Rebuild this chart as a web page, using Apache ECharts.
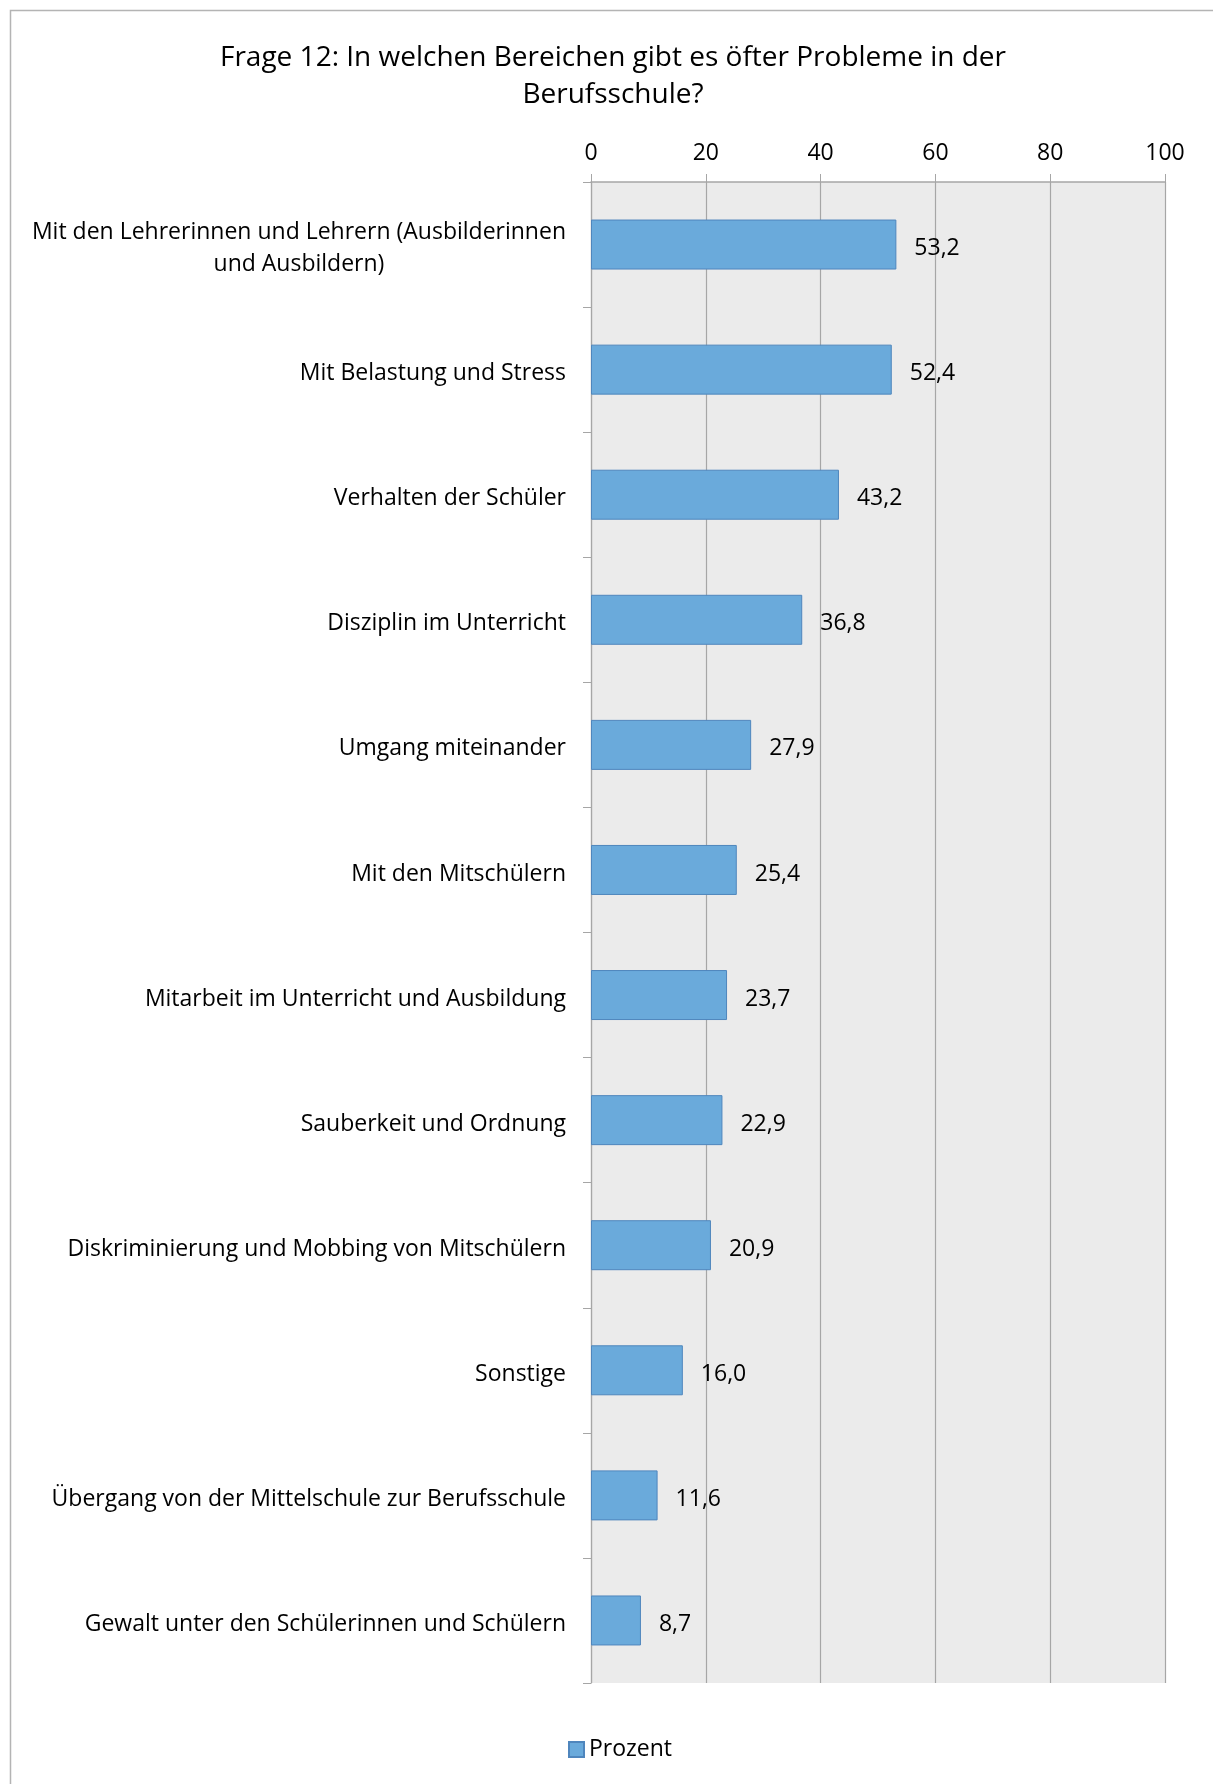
<!DOCTYPE html>
<html>
<head>
<meta charset="utf-8">
<script src="https://cdn.jsdelivr.net/npm/echarts@6/dist/echarts.min.js"></script>
<style>
  html, body { margin: 0; padding: 0; background: #ffffff; }
  #chart { width: 1213px; height: 1784px; }
</style>
</head>
<body>
<div id="chart"></div>
<script>
// Survey question 12: problem areas at the vocational school (percent)
const titleText = 'Frage 12: In welchen Bereichen gibt es öfter Probleme in der\nBerufsschule?';
const seriesName = 'Prozent';
const categories = [
  'Mit den Lehrerinnen und Lehrern (Ausbilderinnen\nund Ausbildern)',
  'Mit Belastung und Stress',
  'Verhalten der Schüler',
  'Disziplin im Unterricht',
  'Umgang miteinander',
  'Mit den Mitschülern',
  'Mitarbeit im Unterricht und Ausbildung',
  'Sauberkeit und Ordnung',
  'Diskriminierung und Mobbing von Mitschülern',
  'Sonstige',
  'Übergang von der Mittelschule zur Berufsschule',
  'Gewalt unter den Schülerinnen und Schülern'
];
const values = [53.2, 52.4, 43.2, 36.8, 27.9, 25.4, 23.7, 22.9, 20.9, 16.0, 11.6, 8.7];
const axisTicks = [0, 20, 40, 60, 80, 100];

const FONT = '"Open Sans", "Noto Sans", sans-serif';
const GRID_GRAY = '#a6a6a6';

const chart = echarts.init(document.getElementById('chart'), null, { renderer: 'canvas' });

chart.setOption({
  backgroundColor: '#ffffff',
  animation: false,
  textStyle: { fontFamily: FONT, color: '#000' },
  graphic: [{
    // outer chart frame (left and top edges visible)
    type: 'rect',
    left: 8, top: 8,
    shape: { width: 1400, height: 2000 },
    style: { fill: 'none', stroke: '#b4b4b4', lineWidth: 1.5 },
    silent: true,
    z: -1
  }],
  title: {
    text: titleText,
    left: 608,
    top: 35,
    padding: 5,
    textAlign: 'center',
    textStyle: { fontFamily: FONT, fontSize: 28, fontWeight: 'normal', color: '#000', lineHeight: 37 }
  },
  legend: {
    data: [seriesName],
    left: 563,
    top: 1733,
    icon: 'rect',
    itemWidth: 15,
    itemHeight: 15,
    itemGap: 6,
    textStyle: { fontFamily: FONT, fontSize: 23, color: '#000' }
  },
  grid: {
    left: 591,
    right: 48,
    top: 182,
    bottom: 101,
    show: true,
    backgroundColor: '#ebebeb',
    borderWidth: 0,
    containLabel: false
  },
  xAxis: {
    type: 'value',
    position: 'top',
    min: axisTicks[0],
    max: axisTicks[axisTicks.length - 1],
    interval: axisTicks[1] - axisTicks[0],
    axisLine: { show: true, lineStyle: { color: GRID_GRAY, width: 1.5 } },
    axisTick: { show: true, length: 8, lineStyle: { color: GRID_GRAY, width: 1 } },
    axisLabel: { fontFamily: FONT, fontSize: 23, color: '#000', margin: 17 },
    splitLine: { show: true, lineStyle: { color: GRID_GRAY, width: 1.2 } }
  },
  yAxis: {
    type: 'category',
    inverse: true,
    data: categories,
    axisLine: { show: true, lineStyle: { color: GRID_GRAY, width: 1.2 } },
    axisTick: { show: true, length: 8, lineStyle: { color: GRID_GRAY, width: 1 } },
    axisLabel: {
      fontFamily: FONT,
      fontSize: 23,
      color: '#000',
      margin: 25,
      lineHeight: 32,
      padding: [8, 0, 0, 0],
      formatter: function (v) {
        return v.split('\n').map(function (line) { return '{c|' + line + '}'; }).join('\n');
      },
      rich: {
        c: { fontFamily: FONT, fontSize: 23, color: '#000', align: 'center', lineHeight: 32 }
      }
    }
  },
  series: [{
    name: seriesName,
    type: 'bar',
    data: values,
    barWidth: 50,
    itemStyle: { color: '#6aaadb', borderColor: '#4f86bd', borderWidth: 1 },
    label: {
      show: true,
      position: 'right',
      distance: 18,
      offset: [0, 4],
      fontFamily: FONT,
      fontSize: 23,
      color: '#000',
      formatter: function (p) { return p.value.toFixed(1).replace('.', ','); }
    }
  }]
});
</script>
</body>
</html>
